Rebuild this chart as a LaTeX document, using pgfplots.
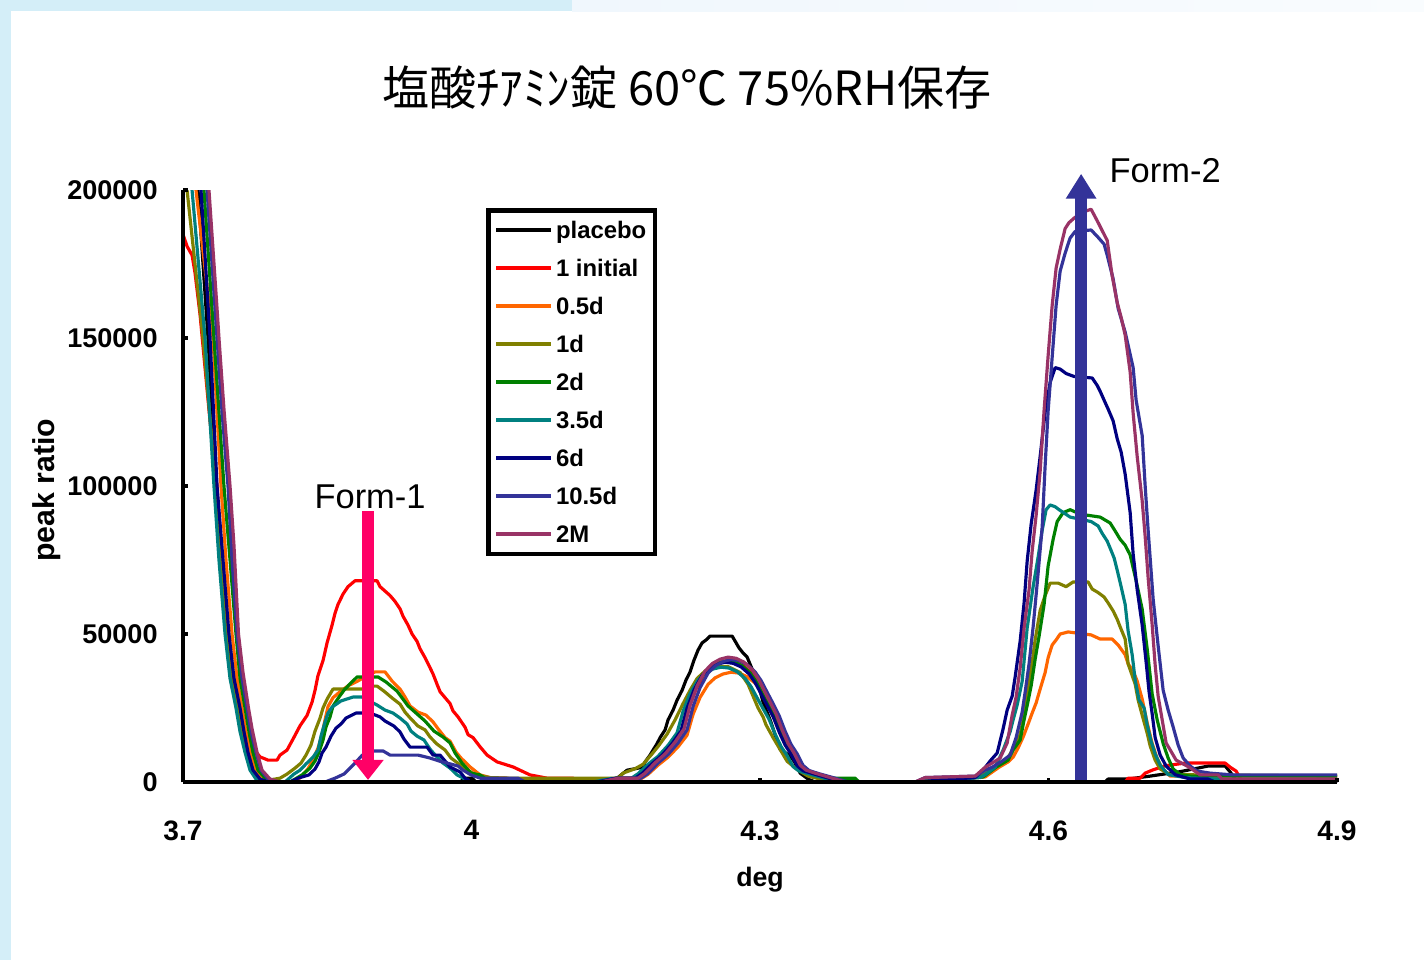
\documentclass[border=0pt]{standalone}
\usepackage{fontspec}
\setmainfont{Liberation Sans}
\newfontfamily\cjk{Noto Sans CJK JP}
\usepackage{pgfplots}
\pgfplotsset{compat=1.18}
\usetikzlibrary{arrows.meta}
\definecolor{cPlacebo}{RGB}{0,0,0}
\definecolor{cInitial}{RGB}{255,0,0}
\definecolor{cHalf}{RGB}{255,102,0}
\definecolor{cOne}{RGB}{128,128,0}
\definecolor{cTwo}{RGB}{0,128,0}
\definecolor{cThree}{RGB}{0,128,128}
\definecolor{cSix}{RGB}{0,0,128}
\definecolor{cTen}{RGB}{51,51,153}
\definecolor{cTwoM}{RGB}{153,51,102}
\definecolor{cPink}{RGB}{255,0,102}
\definecolor{bgblue}{RGB}{212,238,248}
\definecolor{bglight}{RGB}{240,247,253}
\begin{document}
\begin{tikzpicture}
\useasboundingbox (0,0) rectangle (142.4mm,96mm);
\fill[white] (0,0) rectangle (142.4mm,96mm);
\fill[bgblue] (0,0) rectangle (1.1mm,96mm);
\fill[bgblue] (0,94.9mm) rectangle (57.2mm,96mm);
\shade[left color=bglight, right color=white!60!bglight] (57.2mm,94.9mm) rectangle (142.4mm,96mm);
\node[font=\cjk\fontsize{13.4}{15}\selectfont] at (68.7mm,87.2mm) {塩酸ﾁｱﾐﾝ錠 60℃ 75\%RH保存};
\begin{axis}[
  at={(18.3mm,17.8mm)}, anchor=south west,
  scale only axis, width=115.4mm, height=59.2mm,
  xmin=3.7, xmax=4.9, ymin=0, ymax=200000,
  axis lines*=left,
  axis line style={line width=1.1pt, black},
  xtick={3.7,4,4.3,4.6,4.9},
  ytick={0,50000,100000,150000,200000},
  scaled y ticks=false,
  /pgf/number format/assume math mode=true,
  yticklabel style={/pgf/number format/fixed, /pgf/number format/1000 sep={}, font=\fontsize{7.7}{8}\selectfont\bfseries, xshift=-1.3mm},
  xticklabel style={/pgf/number format/fixed, font=\fontsize{8}{9}\selectfont\bfseries, yshift=-2.6mm},
  tick align=inside, major tick length=0.45mm,
  tick style={line width=1pt, black},
  axis on top,
  clip mode=individual,
  xlabel={deg}, ylabel={peak ratio},
  xlabel style={font=\fontsize{7.6}{8}\selectfont\bfseries, at={(axis description cs:0.5,0)}, anchor=center, yshift=-9.8mm},
  ylabel style={font=\fontsize{8.6}{9}\selectfont\bfseries, at={(axis description cs:-0.118,0.493)}, anchor=center},
  no markers,
  every axis plot/.append style={line width=0.9pt, line join=round},
  legend style={at={(0.2626,0.9696)}, anchor=north west, draw=black, line width=1.3pt,
    font=\fontsize{6.8}{7}\selectfont\bfseries,
    nodes={inner sep=0.8pt, text height=7pt, text depth=2.2pt},
    inner xsep=0.6mm, inner ysep=0.1mm, row sep=0pt},
  legend cell align=left,
  legend image code/.code={\draw[#1, line width=1.1pt] (0mm,0mm) -- (5.5mm,0mm);},
]
% placebo
\addplot[cPlacebo] table {
3.7114 240000
3.7156 200000
3.7260 150000
3.7343 100000
3.7395 75000
3.7458 50000
3.7520 35000
3.7582 25000
3.7645 17000
3.7697 10000
3.7749 4000
3.7822 1000
3.7905 0
3.9881 0
3.9933 1300
4.0006 1300
4.0047 0
4.1337 0
4.1514 1300
4.1618 4000
4.1784 5000
4.1805 6800
4.1857 9100
4.1888 10800
4.1930 13000
4.1961 15000
4.2013 17600
4.2044 21000
4.2096 24300
4.2138 27700
4.2190 31000
4.2231 34500
4.2273 37200
4.2314 41200
4.2356 44600
4.2398 47000
4.2439 48000
4.2481 49300
4.2710 49300
4.2741 47600
4.2782 45300
4.2824 43600
4.2866 42200
4.2907 39000
4.2970 34500
4.3032 27000
4.3105 21000
4.3209 11000
4.3282 9500
4.3334 8000
4.3365 6400
4.3417 3000
4.3500 1000
4.3573 0
4.6589 0
4.6620 1000
4.6828 1000
4.7057 2000
4.7369 3500
4.7660 5400
4.7837 5400
4.7889 3400
4.7962 0
4.9000 0
};
% 1 initial
\addplot[cInitial] table {
3.7000 185000
3.7042 181000
3.7094 178000
3.7125 172000
3.7177 158000
3.7229 140000
3.7281 122000
3.7354 100000
3.7406 72000
3.7437 62000
3.7468 50000
3.7510 38500
3.7593 25300
3.7645 17200
3.7718 11800
3.7801 8500
3.7884 7400
3.7978 7400
3.8009 9100
3.8082 10800
3.8144 14500
3.8217 19000
3.8290 22500
3.8342 27000
3.8373 31000
3.8404 36000
3.8456 41000
3.8498 47000
3.8550 53000
3.8581 57000
3.8612 60000
3.8664 63500
3.8716 66000
3.8789 68000
3.9018 68000
3.9049 66000
3.9101 64500
3.9153 63000
3.9205 61000
3.9257 58500
3.9288 56000
3.9340 53000
3.9382 50000
3.9434 47500
3.9465 45000
3.9517 42000
3.9548 40000
3.9600 36500
3.9642 33000
3.9673 30500
3.9725 28500
3.9777 26500
3.9808 24000
3.9860 22000
3.9933 18500
3.9964 16000
4.0016 15000
4.0089 11900
4.0162 9100
4.0266 6800
4.0432 5100
4.0609 2400
4.0786 1300
4.1056 1300
4.1108 0
4.1327 0
4.1514 1300
4.1722 1300
4.1795 2900
4.1899 6300
4.2003 9200
4.2107 13100
4.2200 17500
4.2263 25200
4.2336 31500
4.2419 36400
4.2492 38800
4.2575 40300
4.2658 40900
4.2741 40500
4.2824 39300
4.2908 36900
4.2970 34000
4.3032 30100
4.3095 26200
4.3157 22300
4.3220 17100
4.3282 12600
4.3344 9500
4.3407 5500
4.3469 3900
4.3563 2900
4.3740 1300
4.3875 0
4.6797 0
4.6828 1300
4.6953 1300
4.7005 3000
4.7078 4000
4.7213 5500
4.7421 6400
4.7837 6400
4.7889 5000
4.7951 3700
4.8014 0
4.9000 0
};
% 0.5d
\addplot[cHalf] table {
3.7094 240000
3.7135 200000
3.7312 150000
3.7395 100000
3.7447 75000
3.7510 50000
3.7562 35000
3.7614 25000
3.7655 17000
3.7697 10000
3.7759 4000
3.7842 1000
3.7926 0
3.8165 0
3.8238 2000
3.8300 4500
3.8352 7500
3.8404 11500
3.8446 16000
3.8477 21000
3.8508 25500
3.8560 28500
3.8633 30500
3.8716 32500
3.8810 34000
3.8893 35500
3.8997 37200
3.9101 37200
3.9174 34100
3.9257 31400
3.9309 28700
3.9361 25700
3.9444 23600
3.9527 22600
3.9600 20300
3.9652 18000
3.9725 15000
3.9777 13800
3.9839 10100
3.9891 8100
3.9985 5100
4.0089 2400
4.0193 1500
4.0380 1300
4.0422 0
4.1368 0
4.1555 1100
4.1763 1100
4.1836 2600
4.1940 5700
4.2044 8400
4.2148 11900
4.2241 15800
4.2304 22900
4.2377 28600
4.2460 33000
4.2533 35200
4.2616 36500
4.2699 37100
4.2782 36800
4.2865 35600
4.2949 33400
4.3011 30800
4.3073 27300
4.3136 23800
4.3198 20200
4.3261 15500
4.3323 11400
4.3385 8600
4.3448 5000
4.3510 3500
4.3604 2600
4.3781 1100
4.3916 0
4.4613 0
4.5341 1700
4.5486 5000
4.5580 6800
4.5632 8400
4.5684 11500
4.5736 15200
4.5788 19600
4.5830 23300
4.5871 26700
4.5913 31400
4.5965 37000
4.5996 42000
4.6038 46300
4.6079 48000
4.6121 50000
4.6204 50700
4.6443 49700
4.6537 48300
4.6662 48300
4.6724 46300
4.6797 43000
4.6828 39900
4.6880 37500
4.6922 34100
4.6974 28000
4.7026 20000
4.7078 13000
4.7130 8000
4.7182 4500
4.7265 2000
4.9000 2000
};
% 1d
\addplot[cOne] table {
3.7000 230000
3.7042 200000
3.7208 150000
3.7343 100000
3.7395 75000
3.7447 50000
3.7510 35000
3.7572 25000
3.7614 17000
3.7666 10000
3.7718 4000
3.7780 1000
3.7853 500
3.7957 1000
3.8009 1300
3.8082 2700
3.8165 4700
3.8227 6400
3.8279 9100
3.8331 12500
3.8373 17200
3.8425 21600
3.8456 25000
3.8498 28000
3.8560 31400
3.8862 31400
3.8945 32400
3.9018 32400
3.9090 30700
3.9174 28400
3.9257 26300
3.9309 23600
3.9371 21300
3.9444 18900
3.9517 17600
3.9569 15200
3.9642 12800
3.9725 10800
3.9787 8100
3.9870 6100
3.9943 4400
4.0037 2500
4.0193 1500
4.0401 1300
4.1524 1300
4.1576 3000
4.1701 4500
4.1784 6000
4.1867 9100
4.1940 12000
4.2034 16200
4.2117 21000
4.2200 26500
4.2273 31000
4.2346 35000
4.2429 37500
4.2533 39000
4.2668 39000
4.2793 37000
4.2876 33000
4.2928 29000
4.2980 25000
4.3032 22000
4.3063 19300
4.3136 15000
4.3209 11000
4.3282 7000
4.3396 4000
4.3500 2000
4.3625 1000
4.3729 0
4.4613 0
4.5289 2000
4.5393 3700
4.5497 6400
4.5580 8400
4.5653 12200
4.5705 16200
4.5746 22300
4.5788 31000
4.5830 40500
4.5861 48000
4.5913 58000
4.5965 63000
4.6017 67200
4.6100 67200
4.6183 66000
4.6256 67600
4.6412 67600
4.6454 65200
4.6516 64000
4.6578 62500
4.6620 60500
4.6672 57800
4.6714 55000
4.6745 52400
4.6797 48300
4.6828 39900
4.6901 33100
4.6932 27700
4.6974 22600
4.7026 16500
4.7057 12200
4.7109 7400
4.7161 4400
4.7265 2500
4.9000 2000
};
% 2d
\addplot[cTwo] table {
3.7177 240000
3.7218 200000
3.7322 150000
3.7426 100000
3.7489 75000
3.7551 50000
3.7593 35000
3.7645 25000
3.7686 17000
3.7728 10000
3.7780 4000
3.7863 1000
3.7957 0
3.8113 0
3.8238 2400
3.8321 4700
3.8373 7100
3.8414 10100
3.8456 14200
3.8487 18600
3.8529 22000
3.8560 25700
3.8622 28700
3.8674 31000
3.8726 32800
3.8810 35500
3.9028 35500
3.9111 33800
3.9226 30700
3.9340 25700
3.9423 23300
3.9517 20600
3.9610 17200
3.9704 15200
3.9777 13200
3.9829 9800
3.9902 6400
3.9995 3000
4.0089 2400
4.0193 0
4.1316 0
4.1503 1300
4.1711 1300
4.1784 2900
4.1888 6300
4.1992 9200
4.2096 13100
4.2189 17500
4.2252 25200
4.2325 31500
4.2408 36400
4.2481 38800
4.2564 40300
4.2647 40900
4.2730 40500
4.2813 39300
4.2897 36900
4.2959 34000
4.3021 30100
4.3084 26200
4.3146 22300
4.3209 17100
4.3271 12600
4.3333 9500
4.3396 5500
4.3458 3900
4.3552 2900
4.3729 1300
4.3989 1300
4.4030 0
4.4613 0
4.5320 1700
4.5455 5000
4.5580 7400
4.5632 10800
4.5705 14200
4.5746 21000
4.5788 27400
4.5819 32400
4.5861 41500
4.5902 49300
4.5954 60000
4.5996 73000
4.6048 82000
4.6090 88000
4.6152 91000
4.6225 92000
4.6329 90500
4.6537 89500
4.6641 87500
4.6693 84800
4.6745 82000
4.6797 80000
4.6849 76700
4.6911 68000
4.6974 58400
4.7026 45000
4.7078 29700
4.7130 21000
4.7192 13000
4.7244 8100
4.7296 4400
4.7369 2500
4.7473 2000
4.9000 2000
};
% 3.5d
\addplot[cThree] table {
3.7052 240000
3.7094 200000
3.7229 150000
3.7322 100000
3.7374 75000
3.7437 50000
3.7489 35000
3.7551 25000
3.7593 17000
3.7645 10000
3.7697 4000
3.7759 1000
3.7822 0
3.8061 0
3.8154 2700
3.8217 4000
3.8279 6100
3.8352 8400
3.8404 10800
3.8435 15500
3.8477 20300
3.8508 23300
3.8550 25300
3.8643 27400
3.8768 28700
3.8862 28700
3.9018 26000
3.9101 24300
3.9184 23300
3.9257 21600
3.9330 19600
3.9371 17200
3.9434 15500
3.9506 14200
3.9569 11100
3.9631 8800
3.9704 6400
3.9777 4700
3.9850 2400
3.9933 1000
4.0006 0
4.1264 0
4.1451 1200
4.1659 1200
4.1732 2800
4.1836 6000
4.1940 8700
4.2044 12400
4.2137 16600
4.2200 23900
4.2273 29900
4.2356 34500
4.2429 36800
4.2512 38200
4.2595 38800
4.2678 38500
4.2761 37300
4.2845 35000
4.2907 32200
4.2969 28500
4.3032 24800
4.3094 21200
4.3157 16200
4.3219 12000
4.3281 9000
4.3344 5200
4.3406 3700
4.3500 2800
4.3677 1200
4.3812 0
4.4613 0
4.5289 1500
4.5341 2500
4.5445 5000
4.5528 10800
4.5601 17000
4.5632 21000
4.5674 26000
4.5726 34000
4.5778 52000
4.5840 66000
4.5892 76000
4.5934 85000
4.5975 92000
4.6017 93600
4.6069 93000
4.6110 92000
4.6225 89500
4.6443 88000
4.6516 86500
4.6558 84000
4.6610 81400
4.6641 79000
4.6682 75700
4.6714 71600
4.6755 66000
4.6797 60000
4.6828 51000
4.6870 43000
4.6901 34500
4.6942 27700
4.6994 25000
4.7026 19300
4.7067 13800
4.7109 9500
4.7161 5700
4.7244 2500
4.7421 1500
4.7764 1000
4.7837 0
4.9000 0
};
% 6d
\addplot[cSix] table {
3.7146 240000
3.7187 200000
3.7281 150000
3.7354 100000
3.7416 75000
3.7478 50000
3.7530 35000
3.7593 25000
3.7634 17000
3.7676 10000
3.7728 4000
3.7801 1000
3.7884 0
3.8113 0
3.8196 1300
3.8310 2400
3.8373 4400
3.8414 6800
3.8446 9800
3.8487 11800
3.8539 15500
3.8591 18200
3.8643 19600
3.8695 21600
3.8799 23300
3.8945 23300
3.9049 22000
3.9101 20600
3.9194 18900
3.9257 16900
3.9298 14500
3.9361 11800
3.9538 11800
3.9600 9100
3.9673 9100
3.9777 5100
3.9881 3400
3.9933 1300
4.0006 0
4.1306 0
4.1493 1250
4.1701 1250
4.1774 2900
4.1878 6200
4.1982 9100
4.2086 13000
4.2179 17300
4.2242 25000
4.2315 31200
4.2398 36000
4.2471 38400
4.2554 39800
4.2637 40500
4.2720 40100
4.2803 38900
4.2887 36500
4.2949 33600
4.3011 29800
4.3074 25900
4.3136 22100
4.3199 16900
4.3261 12500
4.3323 9400
4.3386 5500
4.3448 3800
4.3542 2900
4.3719 1250
4.3854 0
4.4613 0
4.5237 1500
4.5320 4000
4.5393 7100
4.5466 9800
4.5528 18000
4.5570 24300
4.5622 29000
4.5653 35500
4.5705 47600
4.5746 60500
4.5778 74600
4.5819 87000
4.5871 98600
4.5913 110000
4.5965 125000
4.6017 135000
4.6069 140000
4.6121 139500
4.6183 138000
4.6266 137000
4.6454 136500
4.6506 134000
4.6537 132000
4.6578 129000
4.6620 126000
4.6672 122000
4.6714 116000
4.6755 111500
4.6797 104000
4.6849 91000
4.6880 77000
4.6922 65000
4.6974 53000
4.7015 40500
4.7046 30400
4.7078 23000
4.7109 15000
4.7161 9100
4.7223 5400
4.7317 2500
4.7473 1000
4.7660 1000
4.7733 0
4.9000 0
};
% 10.5d
\addplot[cTen] table {
3.7208 240000
3.7250 200000
3.7302 175000
3.7354 150000
3.7406 125000
3.7468 100000
3.7510 75000
3.7562 50000
3.7614 35000
3.7666 25000
3.7707 17000
3.7759 10000
3.7811 4000
3.7884 1000
3.7978 0
3.8477 0
3.8581 1300
3.8674 2700
3.8737 4700
3.8789 6400
3.8862 9000
3.8945 10500
3.9080 10500
3.9153 9100
3.9444 9100
3.9569 8100
3.9673 7000
3.9746 6400
3.9860 5400
3.9912 4000
3.9995 2400
4.0089 1300
4.0484 1300
4.0557 0
4.1368 0
4.1555 1300
4.1763 1300
4.1836 2900
4.1940 6400
4.2044 9300
4.2148 13200
4.2241 17600
4.2304 25500
4.2377 31900
4.2460 36800
4.2533 39200
4.2616 40700
4.2699 41400
4.2782 41000
4.2865 39700
4.2949 37200
4.3011 34300
4.3073 30400
4.3136 26500
4.3198 22500
4.3261 17200
4.3323 12700
4.3385 9600
4.3448 5600
4.3510 3900
4.3604 2900
4.3781 1300
4.3916 0
4.4613 0
4.4717 1500
4.5237 2000
4.5341 4000
4.5414 5000
4.5507 6800
4.5601 9100
4.5663 15000
4.5726 23600
4.5757 30400
4.5798 40000
4.5840 52400
4.5882 67000
4.5934 86100
4.5965 107000
4.5996 125300
4.6038 143500
4.6079 161000
4.6121 172600
4.6173 178700
4.6225 183800
4.6277 186000
4.6443 186500
4.6516 184000
4.6578 181700
4.6610 178000
4.6641 174000
4.6672 170000
4.6724 160000
4.6797 152000
4.6880 140000
4.6911 129000
4.6974 117000
4.7005 100000
4.7036 85000
4.7088 61800
4.7140 46000
4.7192 31000
4.7244 24300
4.7296 18600
4.7348 12500
4.7400 8100
4.7473 5400
4.7546 3700
4.7681 3000
4.7920 2400
4.9000 2400
};
% 2M
\addplot[cTwoM] table {
3.7229 240000
3.7270 200000
3.7312 180000
3.7354 160000
3.7374 150000
3.7426 126000
3.7489 100000
3.7530 80000
3.7577 50000
3.7624 37000
3.7681 25000
3.7718 18000
3.7770 10000
3.7822 4000
3.7905 1000
3.8009 0
4.1337 0
4.1524 1300
4.1732 1300
4.1805 3000
4.1909 6500
4.2013 9500
4.2117 13500
4.2210 18000
4.2273 26000
4.2346 32500
4.2429 37500
4.2502 40000
4.2585 41500
4.2668 42200
4.2751 41800
4.2834 40500
4.2918 38000
4.2980 35000
4.3042 31000
4.3105 27000
4.3167 23000
4.3230 17600
4.3292 13000
4.3354 9800
4.3417 5700
4.3479 4000
4.3573 3000
4.3750 1300
4.3885 0
4.4613 0
4.4717 1500
4.5237 2000
4.5341 5000
4.5414 6400
4.5497 8100
4.5570 13200
4.5622 22600
4.5663 28700
4.5705 38500
4.5746 52000
4.5798 65000
4.5830 78000
4.5871 90000
4.5913 105000
4.5954 125600
4.5996 144000
4.6038 161000
4.6079 173600
4.6121 180000
4.6173 187000
4.6214 189000
4.6266 190500
4.6350 192500
4.6443 193500
4.6516 189000
4.6578 185000
4.6610 183000
4.6662 171000
4.6714 162000
4.6755 157000
4.6797 151000
4.6849 138500
4.6880 124600
4.6922 110000
4.6974 95000
4.7005 83000
4.7036 69000
4.7078 53000
4.7109 39500
4.7140 29000
4.7182 21000
4.7223 13200
4.7327 7400
4.7462 5000
4.7577 2400
4.7764 2400
4.7806 1000
4.9000 1000
};
\legend{placebo,1 initial,0.5d,1d,2d,3.5d,6d,10.5d,2M}
% annotations
\draw[cPink, line width=1.2mm, -{Triangle[width=3mm,length=2mm]}] (axis cs:3.8924,91500) -- (axis cs:3.8924,700);
\draw[cTen, line width=1.2mm, -{Triangle[width=2.9mm,length=2.5mm]}] (axis cs:4.6339,800) -- (axis cs:4.6339,205500);
\node[font=\fontsize{9.8}{11}\selectfont] at (axis cs:3.8945,96200) {Form-1};
\node[font=\fontsize{9.8}{11}\selectfont] at (axis cs:4.7213,206700) {Form-2};
\end{axis}
\end{tikzpicture}
\end{document}
